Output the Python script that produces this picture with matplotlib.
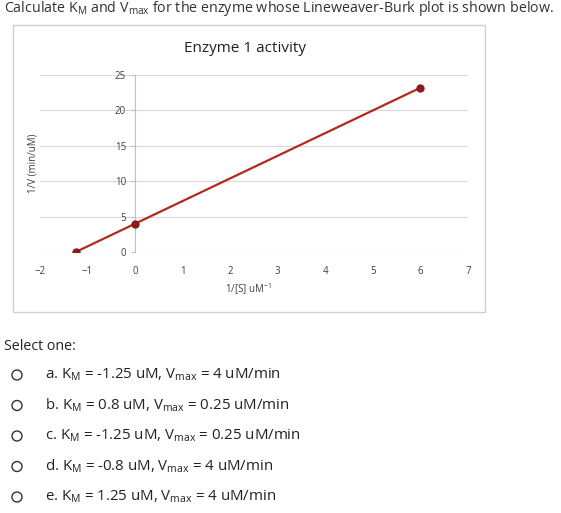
import matplotlib
matplotlib.use("Agg")
import matplotlib.pyplot as plt
from matplotlib.patches import Circle, Rectangle

plt.rcParams["font.family"] = ["Open Sans", "DejaVu Sans"]
plt.rcParams["mathtext.fontset"] = "custom"
plt.rcParams["mathtext.rm"] = "Open Sans"
plt.rcParams["mathtext.it"] = "Open Sans"

# data: Lineweaver-Burk points
inv_s = [-1.25, 0, 6]
inv_v = [0, 4, 23.2]
x_ticks = [-2, -1, 0, 1, 2, 3, 4, 5, 6, 7]
y_ticks = [0, 5, 10, 15, 20, 25]

question = r"Calculate K$_\mathregular{M}$ and V$_\mathregular{max}$ for the enzyme whose Lineweaver-Burk plot is shown below."
options = [
    r"a. K$_\mathregular{M}$ = -1.25 uM, V$_\mathregular{max}$ = 4 uM/min",
    r"b. K$_\mathregular{M}$ = 0.8 uM, V$_\mathregular{max}$ = 0.25 uM/min",
    r"c. K$_\mathregular{M}$ = -1.25 uM, V$_\mathregular{max}$ = 0.25 uM/min",
    r"d. K$_\mathregular{M}$ = -0.8 uM, V$_\mathregular{max}$ = 4 uM/min",
    r"e. K$_\mathregular{M}$ = 1.25 uM, V$_\mathregular{max}$ = 4 uM/min",
]

W, H = 561, 513
fig = plt.figure(figsize=(W / 100, H / 100), dpi=100)

# overlay in pixel coords for page text
ov = fig.add_axes([0, 0, 1, 1])
ov.set_xlim(0, W)
ov.set_ylim(H, 0)
ov.axis("off")
ov.add_patch(Rectangle((13, 25), 472, 287, fill=False, ec="#d0d0d0", lw=1))
ov.text(4, 8, question, fontsize=10.3, va="center", color="#333333")
ov.text(245, 48, "Enzyme 1 activity", fontsize=11, ha="center", va="center", color="#222222")
ov.text(33, 163, "1/V (min/uM)", fontsize=7, rotation=90, ha="center", va="center", color="#404040")
ov.text(248, 289, r"1/[S] uM$^\mathregular{-1}$", fontsize=7, ha="center", va="center", color="#404040")
ov.text(4, 347, "Select one:", fontsize=10.3, va="center", color="#222222")
for i, opt in enumerate(options):
    y = 375 + i * 30.5
    ov.add_patch(Circle((17, y), 5, fill=False, ec="#333333", lw=1))
    ov.text(45, y, opt, fontsize=10.8, va="center", color="#222222")

# chart
ax = fig.add_axes([40 / W, 1 - 252 / H, 428 / W, 177 / H])
ax.set_xlim(-2, 7)
ax.set_ylim(0, 25)
ax.plot(inv_s, inv_v, color="#B22A1E", lw=1.6, marker="o", ms=5,
        mfc="#8B1A1A", mec="#8B1A1A", zorder=3)
ax.set_yticks(y_ticks)
ax.set_xticks(x_ticks)
ax.yaxis.grid(True, color="#d9d9d9", lw=0.8)
ax.set_axisbelow(True)
for s in ["top", "right", "bottom"]:
    ax.spines[s].set_visible(False)
ax.spines["left"].set_position(("data", 0))
ax.spines["left"].set_color("#bfbfbf")
ax.tick_params(axis="y", labelsize=7, colors="#404040", length=3, color="#bfbfbf")
ax.tick_params(axis="x", labelsize=7, colors="#404040", length=0, pad=10)
ax.axhline(0, color="#d9d9d9", lw=0.8)

fig.savefig("out.png", dpi=100)
